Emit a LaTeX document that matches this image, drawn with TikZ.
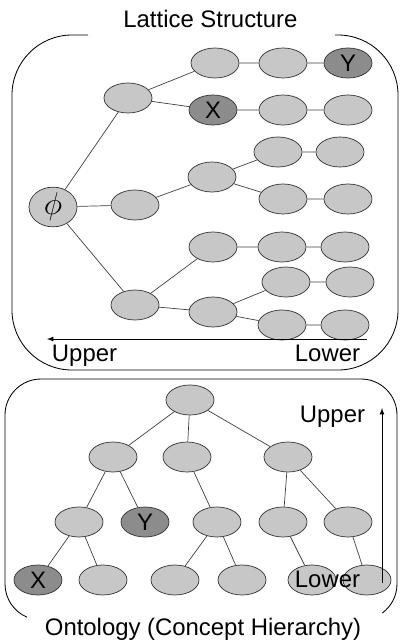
\documentclass[tikz,border=0pt]{standalone}
\usepackage{fontspec}
\setmainfont{Liberation Sans}
\usetikzlibrary{shapes.geometric}

\begin{document}
\begin{tikzpicture}[
    font=\fontsize{17}{20}\selectfont,
    cn/.style={ellipse,draw=black!80,line width=.5pt,fill=black!22,
      minimum width=1.2cm,minimum height=.75cm,inner sep=0pt},
    cx/.style={cn,fill=black!45},
    ln/.style={black!75,line width=.5pt}]
  \useasboundingbox (0,0) rectangle (10,-16.05);

  % lattice structure
  \node (lt) at (5.26,-.7) [anchor=base] {Lattice Structure};
  \draw[line width=.6pt,rounded corners=1.5cm] (2.2,-.875) -- (.3,-.875)
    -- (.3,-9.25) -- (9.95,-9.25) -- (9.95,-.875) -- (8.375,-.875);
  \node (ph) at (1.325,-5.175) [cn] {\scalebox{1.3}{$\phi$}};
  \node (ua) at (3.2,-2.45) [cn] {};
  \node (ma) at (3.375,-5.125) [cn] {};
  \node (la) at (3.375,-7.625) [cn] {};
  \node (ub) at (5.375,-1.575) [cn] {};
  \node (uc) at (7.075,-1.575) [cn] {};
  \node (ly) at (8.7,-1.575) [cx] {Y};
  \node (lx) at (5.325,-2.75) [cx] {X};
  \node (xb) at (7.075,-2.75) [cn] {};
  \node (xc) at (8.7,-2.75) [cn] {};
  \node (mb) at (5.3,-4.425) [cn] {};
  \node (mc) at (6.95,-3.8) [cn] {};
  \node (md) at (8.5,-3.8) [cn] {};
  \node (me) at (7.075,-4.975) [cn] {};
  \node (mf) at (8.7,-4.975) [cn] {};
  \node (lb) at (5.325,-6.175) [cn] {};
  \node (lc) at (7.05,-6.175) [cn] {};
  \node (ld) at (8.625,-6.175) [cn] {};
  \node (le) at (5.325,-7.8) [cn] {};
  \node (lf) at (7.15,-7.05) [cn] {};
  \node (lg) at (8.75,-7.05) [cn] {};
  \node (lh) at (7.05,-8.125) [cn] {};
  \node (li) at (8.625,-8.125) [cn] {};
  \draw[ln] (ph) -- (ua) (ph) -- (ma) (ph) -- (la)
    (ua) -- (ub) -- (uc) -- (ly) (ua) -- (lx) -- (xb) -- (xc)
    (ma) -- (mb) (mb) -- (mc) -- (md) (mb) -- (me) -- (mf)
    (la) -- (lb) -- (lc) -- (ld) (la) -- (le)
    (le) -- (lf) -- (lg) (le) -- (lh) -- (li);
  \coordinate (lo1) at (9.175,-8.475);
  \coordinate (up1) at (1.175,-8.475);
  \draw[->,>=latex,line width=.6pt] (lo1) -- (up1);
  \node (tu) at (1.175,-9.025) [anchor=base west] {Upper};
  \node (tl) at (9.125,-9.025) [anchor=base east] {Lower};

  % ontology
  \draw[line width=.6pt] ([shift={(247:.9)}]1.025,-14.6)
    arc[start angle=247,end angle=180,radius=.9cm] -- (.125,-10.375)
    arc[start angle=180,end angle=90,radius=.9cm] -- (9.025,-9.475)
    arc[start angle=90,end angle=0,radius=.9cm] -- (9.925,-14.6)
    arc[start angle=0,end angle=-54,radius=.9cm];
  \node (ot) at (5.075,-15.875) [anchor=base] {Ontology (Concept Hierarchy)};
  \node (rt) at (4.75,-10) [cn] {};
  \node (pa) at (2.825,-11.425) [cn] {};
  \node (pb) at (4.675,-11.425) [cn] {};
  \node (pc) at (7.2,-11.425) [cn] {};
  \node (qa) at (1.975,-13.05) [cn] {};
  \node (oy) at (3.625,-13.05) [cx] {Y};
  \node (qc) at (5.425,-13.05) [cn] {};
  \node (qd) at (7.075,-13.05) [cn] {};
  \node (qe) at (8.7,-13.05) [cn] {};
  \node (ox) at (.95,-14.5) [cx] {X};
  \node (sb) at (2.575,-14.5) [cn] {};
  \node (sc) at (4.375,-14.5) [cn] {};
  \node (sd) at (6.05,-14.5) [cn] {};
  \node (se) at (7.8,-14.5) [cn] {};
  \node (sf) at (9.175,-14.5) [cn] {};
  \draw[ln] (rt) -- (pa) (rt) -- (pb) (rt) -- (pc)
    (pa) -- (qa) (pa) -- (oy) (pb) -- (qc) (pc) -- (qd) (pc) -- (qe)
    (qa) -- (ox) (qa) -- (sb) (qc) -- (sc) (qc) -- (sd)
    (qd) -- (se) (qe) -- (sf);
  \coordinate (lo2) at (9.55,-14.575);
  \coordinate (up2) at (9.55,-10.2);
  \draw[->,>=latex,line width=.6pt] (lo2) -- (up2);
  \node (bu) at (9.25,-10.55) [anchor=base east] {Upper};
  \node (bl) at (9.125,-14.675) [anchor=base east] {Lower};
\end{tikzpicture}
\end{document}
